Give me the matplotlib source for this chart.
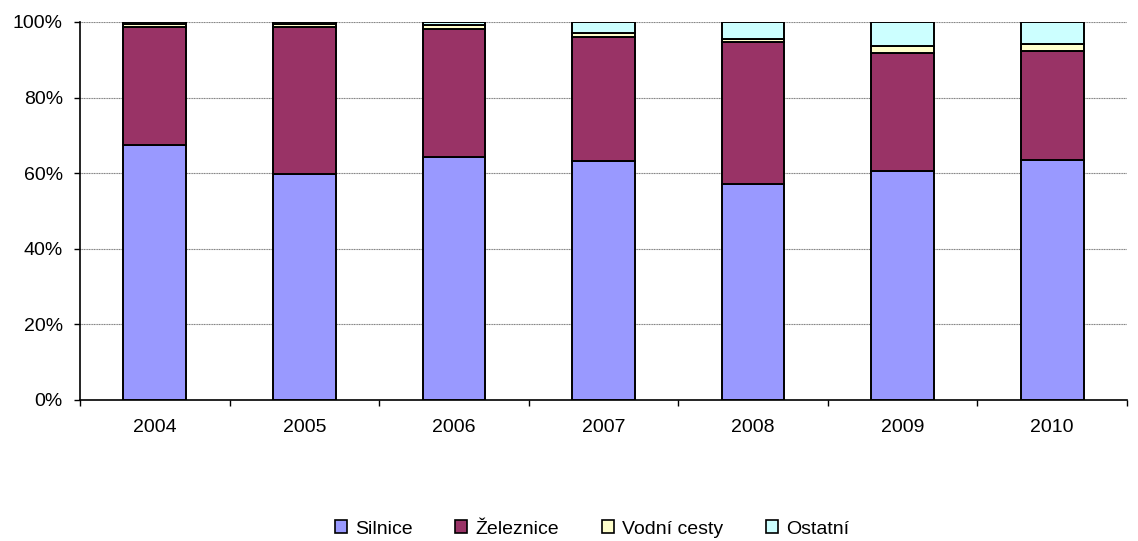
import matplotlib
matplotlib.use("Agg")
import matplotlib.pyplot as plt
import numpy as np
from matplotlib.patches import Patch
from matplotlib.ticker import FuncFormatter

plt.rcParams['font.family'] = ['Liberation Sans', 'DejaVu Sans']

years = ['2004', '2005', '2006', '2007', '2008', '2009', '2010']
silnice = [67.5, 59.8, 64.3, 63.2, 57.1, 60.6, 63.5]
zeleznice = [31.2, 38.9, 33.8, 32.9, 37.5, 31.3, 28.8]
vodni_cesty = [0.65, 0.65, 1.0, 0.9, 0.8, 1.8, 1.9]
ostatni = [0.65, 0.65, 0.9, 3.0, 4.6, 6.3, 5.8]

series = [
    ('Silnice', silnice, '#9999FF'),
    ('Železnice', zeleznice, '#993366'),
    ('Vodní cesty', vodni_cesty, '#FFFFCC'),
    ('Ostatní', ostatni, '#CCFFFF'),
]

W, H = 1138, 541
fig = plt.figure(figsize=(W / 100, H / 100), dpi=100)
ax = fig.add_axes([80 / W, 1 - 400 / H, (1127 - 80) / W, (400 - 22) / H])

x = np.arange(len(years))
bottom = np.zeros(len(years))
for name, vals, color in series:
    vals = np.array(vals)
    ax.bar(x, vals, bottom=bottom, width=0.42, color=color,
           edgecolor='black', linewidth=1.4, zorder=3)
    bottom += vals

ax.set_xlim(-0.5, len(years) - 0.5)
ax.set_ylim(0, 100)
ax.set_yticks(np.arange(0, 101, 20))
ax.yaxis.set_major_formatter(FuncFormatter(lambda v, p: f'{int(v)}%'))
ax.grid(axis='y', color='#808080', linewidth=0.8, linestyle=(0, (1, 0.5)), zorder=0)

# category boundaries carry the tick marks, labels sit at the centres
ax.set_xticks(np.arange(-0.5, len(years), 1.0))
ax.set_xticklabels([])
ax.set_xticks(x, minor=True)
ax.set_xticklabels(years, minor=True)
ax.tick_params(axis='x', which='major', length=4.3, direction='out', width=1)
ax.tick_params(axis='x', which='minor', length=0, pad=13.5, labelsize=14)
ax.tick_params(axis='y', length=4.3, direction='out', width=1, labelsize=14, pad=8)

ax.spines['top'].set_visible(False)
ax.spines['right'].set_visible(False)
ax.spines['left'].set_linewidth(1.2)
ax.spines['bottom'].set_linewidth(1.2)

handles = [Patch(facecolor=c, edgecolor='black', linewidth=1.2, label=n) for n, _, c in series]
fig.legend(handles=handles, loc='center', bbox_to_anchor=(592 / W, 1 - 529 / H),
           ncol=4, frameon=False, fontsize=14, handlelength=0.62, handleheight=0.62,
           handletextpad=0.42, columnspacing=2.2, borderpad=0, borderaxespad=0)

fig.savefig('out.png', dpi=100, facecolor='white')
